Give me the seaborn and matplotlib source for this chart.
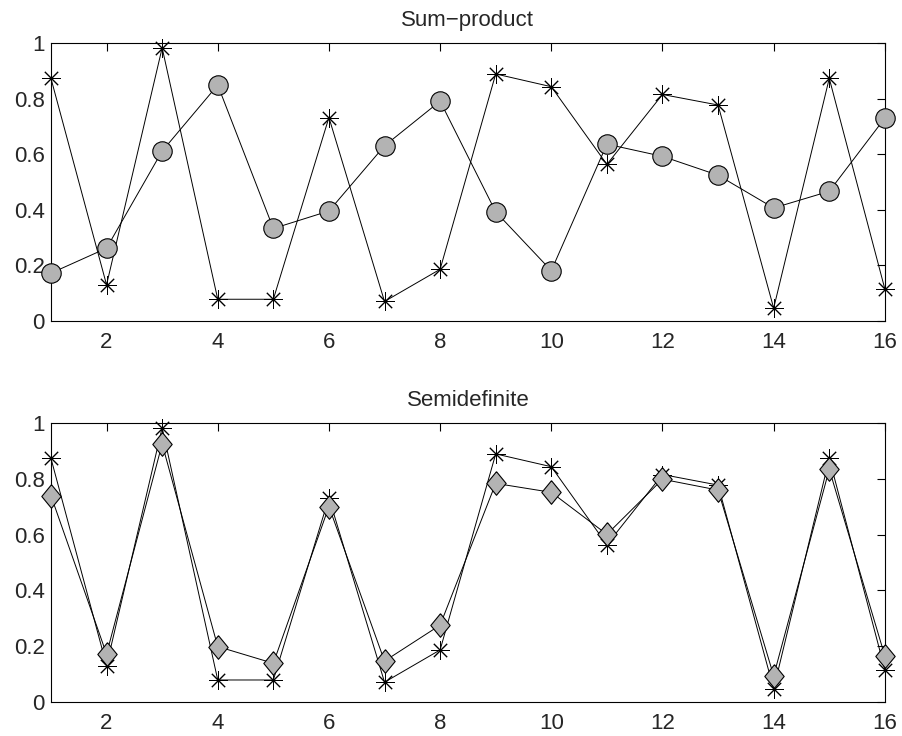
import matplotlib
matplotlib.use('Agg')
import matplotlib.pyplot as plt
import numpy as np
import seaborn as sns

# node index
nodes = np.arange(1, 17)

# exact marginals (stars), same in both panels
exact = [0.874, 0.130, 0.984, 0.078, 0.078, 0.733, 0.070, 0.186,
         0.890, 0.844, 0.564, 0.816, 0.778, 0.046, 0.874, 0.115]

# sum-product estimates (circles)
sum_product = [0.172, 0.262, 0.612, 0.850, 0.333, 0.396, 0.631, 0.792,
               0.393, 0.181, 0.637, 0.593, 0.525, 0.407, 0.467, 0.731]

# semidefinite estimates (diamonds)
semidefinite = [0.740, 0.171, 0.926, 0.198, 0.138, 0.701, 0.146, 0.275,
                0.784, 0.752, 0.601, 0.799, 0.760, 0.093, 0.835, 0.164]

titles = ['Sum\u2212product', 'Semidefinite']
x_ticks = [2, 4, 6, 8, 10, 12, 14, 16]
y_ticks = [0, 0.2, 0.4, 0.6, 0.8, 1]

sns.set_style('white')
plt.rcParams['font.family'] = ['Liberation Sans', 'DejaVu Sans']
plt.rcParams['axes.linewidth'] = 0.8

fig = plt.figure(figsize=(9.02, 7.36), dpi=100)
ax_top = fig.add_axes([0.0565, 0.564, 0.9245, 0.377])
ax_bot = fig.add_axes([0.0565, 0.0466, 0.9245, 0.3783])

gray = '#b3b3b3'
star = (8, 2, 0)
diamond = [(0, 1), (0.82, 0), (0, -1), (-0.82, 0), (0, 1)]

for ax, est, mk, ms, title in [
        (ax_top, sum_product, 'o', 14, titles[0]),
        (ax_bot, semidefinite, diamond, 17, titles[1])]:
    # exact values
    sns.lineplot(x=nodes, y=exact, ax=ax, color='k', linewidth=0.7,
                 marker=star, markersize=13.5, markeredgecolor='k',
                 markeredgewidth=0.7, clip_on=False, zorder=3)
    # approximate values
    sns.lineplot(x=nodes, y=est, ax=ax, color='k', linewidth=0.7,
                 marker=mk, markersize=ms, markerfacecolor=gray,
                 markeredgecolor='k', markeredgewidth=0.8,
                 clip_on=False, zorder=4)

    ax.set_xlim(1, 16)
    ax.set_ylim(0, 1)
    ax.set_xticks(x_ticks)
    ax.set_yticks(y_ticks)
    ax.set_yticklabels(['0', '0.2', '0.4', '0.6', '0.8', '1'])
    ax.tick_params(direction='in', length=6, width=0.8, top=True, right=True,
                   labelsize=16, color='k')
    ax.tick_params(axis='x', pad=8)
    ax.tick_params(axis='y', pad=4.5)
    for s in ax.spines.values():
        s.set_visible(True)
        s.set_color('k')
    ax.set_title(title, fontsize=16, pad=12.5)
    ax.set_xlabel('')
    ax.set_ylabel('')

fig.savefig('out.png', dpi=100)
